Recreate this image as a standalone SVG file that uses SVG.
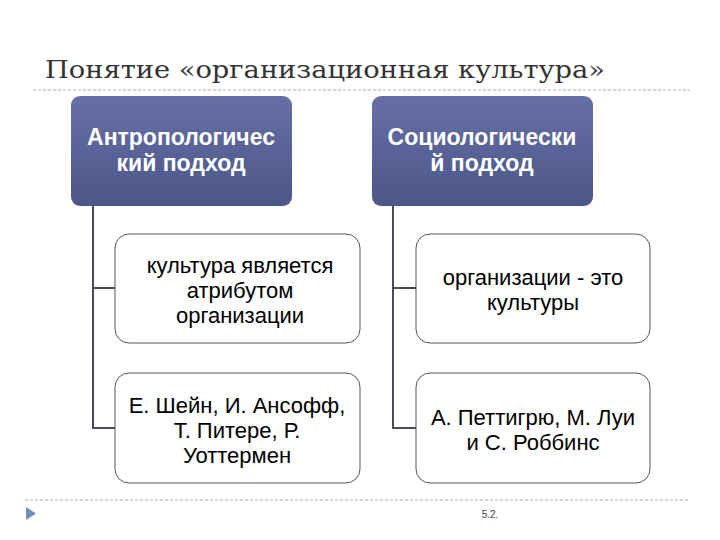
<svg xmlns="http://www.w3.org/2000/svg" width="720" height="540" viewBox="0 0 720 540">
<style>
.h{fill:url(#g);}
.c{fill:#fff;stroke:#555;stroke-width:1;}
.ht{font-family:"Liberation Sans",Arial,sans-serif;font-size:23px;font-weight:bold;fill:#fff;text-anchor:middle;}
.ct{font-family:"Liberation Sans",Arial,sans-serif;font-size:22px;fill:#000;text-anchor:middle;}
.ln{fill:none;stroke:#4a4a5a;stroke-width:2;}
.ds{stroke:#b0b0b0;stroke-width:1;stroke-dasharray:3,2;}
</style>
<defs>
<linearGradient id="g" x1="0" y1="0" x2="0" y2="1">
<stop offset="0" stop-color="#6670a6"/>
<stop offset="1" stop-color="#4c5688"/>
</linearGradient>
</defs>
<rect width="720" height="540" fill="#fff"/>
<text x="45" y="78" font-family="DejaVu Serif,serif" font-size="24" fill="#333" textLength="560" lengthAdjust="spacingAndGlyphs">Понятие «организационная культура»</text>
<line class="ds" x1="33" y1="90" x2="690" y2="90"/>
<line class="ds" x1="25" y1="500" x2="690" y2="500"/>
<polygon points="26,507 36,513.5 26,520" fill="#6e8fbf"/>
<text x="490" y="518" font-family="Liberation Sans,sans-serif" font-size="10" fill="#444" text-anchor="middle">5.2.</text>
<g id="connectors">
<path class="ln" d="M93,206 V428 H115 M93,288 H115"/>
<path class="ln" d="M393,206 V428 H416 M393,288 H416"/>
</g>
<g id="n1"><rect class="h" x="71" y="96" width="221" height="110" rx="9"/>
<text class="ht" x="181" y="145">Антропологичес</text><text class="ht" x="181" y="171">кий подход</text></g>
<g id="n2"><rect class="h" x="372" y="96" width="221" height="110" rx="9"/>
<text class="ht" x="482" y="145">Социологически</text><text class="ht" x="482" y="171">й подход</text></g>
<g id="n3"><rect class="c" x="115" y="234" width="245" height="109" rx="14"/>
<text class="ct" x="240" y="273">культура является</text><text class="ct" x="240" y="298">атрибутом</text><text class="ct" x="240" y="323">организации</text></g>
<g id="n4"><rect class="c" x="416" y="234" width="234" height="109" rx="14"/>
<text class="ct" x="533" y="285">организации - это</text><text class="ct" x="533" y="310">культуры</text></g>
<g id="n5"><rect class="c" x="115" y="373" width="245" height="110" rx="14"/>
<text class="ct" x="237" y="413">Е. Шейн, И. Ансофф,</text><text class="ct" x="237" y="438">Т. Питере, Р.</text><text class="ct" x="237" y="463">Уоттермен</text></g>
<g id="n6"><rect class="c" x="416" y="373" width="234" height="110" rx="14"/>
<text class="ct" x="533" y="425">А. Петтигрю, М. Луи</text><text class="ct" x="533" y="450">и С. Роббинс</text></g>
</svg>
